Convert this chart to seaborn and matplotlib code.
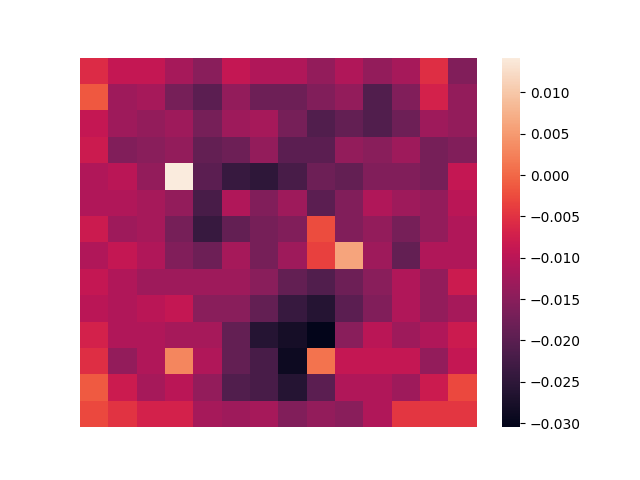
import numpy as np
import pandas as pd
import matplotlib
matplotlib.use("Agg")
import matplotlib.pyplot as plt
import seaborn as sns

row00 = [-0.0058, -0.009, -0.009, -0.012, -0.015, -0.009, -0.011, -0.011, -0.014, -0.011, -0.014, -0.012, -0.0055, -0.016]
row01 = [-0.0015, -0.013, -0.012, -0.017, -0.020, -0.014, -0.018, -0.018, -0.016, -0.014, -0.021, -0.016, -0.007, -0.014]
row02 = [-0.009, -0.013, -0.014, -0.013, -0.017, -0.013, -0.012, -0.017, -0.021, -0.019, -0.021, -0.018, -0.013, -0.014]
row03 = [-0.008, -0.016, -0.015, -0.014, -0.019, -0.018, -0.014, -0.020, -0.020, -0.014, -0.015, -0.013, -0.017, -0.016]
row04 = [-0.011, -0.010, -0.014, 0.0142, -0.020, -0.024, -0.025, -0.022, -0.018, -0.019, -0.016, -0.016, -0.017, -0.009]
row05 = [-0.011, -0.011, -0.012, -0.014, -0.022, -0.011, -0.016, -0.013, -0.020, -0.016, -0.011, -0.013, -0.014, -0.010]
row06 = [-0.008, -0.013, -0.012, -0.017, -0.024, -0.019, -0.017, -0.016, -0.0025, -0.016, -0.014, -0.017, -0.014, -0.011]
row07 = [-0.011, -0.009, -0.011, -0.016, -0.018, -0.012, -0.017, -0.013, -0.0035, 0.006, -0.013, -0.019, -0.011, -0.011]
row08 = [-0.009, -0.011, -0.013, -0.013, -0.013, -0.013, -0.015, -0.019, -0.021, -0.018, -0.015, -0.011, -0.014, -0.008]
row09 = [-0.010, -0.011, -0.010, -0.009, -0.015, -0.015, -0.019, -0.024, -0.026, -0.020, -0.016, -0.011, -0.014, -0.012]
row10 = [-0.007, -0.011, -0.011, -0.012, -0.012, -0.019, -0.026, -0.028, -0.0305, -0.015, -0.010, -0.013, -0.011, -0.008]
row11 = [-0.0055, -0.014, -0.011, 0.003, -0.011, -0.019, -0.022, -0.029, 0.001, -0.009, -0.009, -0.009, -0.014, -0.009]
row12 = [-0.0012, -0.008, -0.012, -0.010, -0.014, -0.021, -0.022, -0.026, -0.020, -0.011, -0.011, -0.013, -0.008, -0.0028]
row13 = [-0.0028, -0.005, -0.007, -0.007, -0.012, -0.013, -0.012, -0.016, -0.014, -0.015, -0.011, -0.0045, -0.0045, -0.0045]

rows = [row00, row01, row02, row03, row04, row05, row06,
        row07, row08, row09, row10, row11, row12, row13]
data = pd.DataFrame(np.array(rows))

fig = plt.figure(figsize=(6.4, 4.8), dpi=100)
ax = sns.heatmap(data, xticklabels=False, yticklabels=False)
fig.savefig("out.png", dpi=100)
